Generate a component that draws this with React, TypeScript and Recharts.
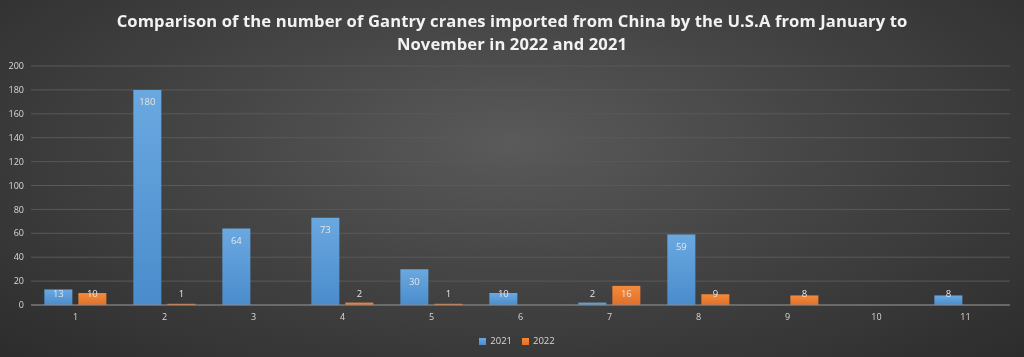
import React from "react";
import { BarChart, Bar, XAxis, YAxis, CartesianGrid, Legend, LabelList } from "recharts";

const months = ["1", "2", "3", "4", "5", "6", "7", "8", "9", "10", "11"];
const values2021: (number | null)[] = [13, 180, 64, 73, 30, 10, 2, 59, null, null, 8];
const values2022: (number | null)[] = [10, 1, null, 2, 1, null, 16, 9, 8, null, null];
const yTicks = [0, 20, 40, 60, 80, 100, 120, 140, 160, 180, 200];

const data = months.map((m, i) => ({ month: m, y2021: values2021[i], y2022: values2022[i] }));

const W = 1024;
const H = 357;

const renderLabel = (props: any) => {
  const { x, y, width, height, value } = props;
  if (value === null || value === undefined) return null;
  const cy = Math.min(y + 12, y + height - 12);
  return (
    <text
      x={x + width / 2}
      y={cy}
      textAnchor="middle"
      dominantBaseline="central"
      fill="#e6e6e6"
      fontSize={9.5}
      fontFamily="'Open Sans', 'DejaVu Sans', sans-serif"
    >
      {value}
    </text>
  );
};

export default function App() {
  return (
    <div
      style={{
        position: "fixed",
        top: 0,
        left: 0,
        width: W,
        height: H,
        background: "radial-gradient(ellipse at 50% 40%, #5a5a5a 0%, #444444 45%, #2c2c2c 100%)",
        fontFamily: "'Open Sans', sans-serif",
      }}
    >
      <div
        style={{
          position: "absolute",
          top: 9,
          left: 0,
          width: W,
          textAlign: "center",
          color: "#f2f2f2",
          fontWeight: 700,
          fontSize: 16.6,
          lineHeight: "23px",
          fontFamily: "'Open Sans', sans-serif",
          letterSpacing: 0.1,
        }}
      >
        Comparison of the number of Gantry cranes imported from China by the U.S.A from January to
        <br />
        November in 2022 and 2021
      </div>
      <BarChart
        width={W}
        height={H}
        data={data}
        margin={{ top: 66, right: 14, bottom: 30, left: 0 }}
        barCategoryGap="15%"
        barGap={6}
        style={{ position: "absolute", top: 0, left: 0 }}
      >
        <defs>
          <linearGradient id="gBlue" x1="0" y1="0" x2="0" y2="1">
            <stop offset="0%" stopColor="#6aa8e0" />
            <stop offset="100%" stopColor="#4a8ccc" />
          </linearGradient>
          <linearGradient id="gOrange" x1="0" y1="0" x2="0" y2="1">
            <stop offset="0%" stopColor="#f58a3a" />
            <stop offset="100%" stopColor="#e0702a" />
          </linearGradient>
        </defs>
        <CartesianGrid vertical={false} stroke="#595959" strokeWidth={1} />
        <XAxis
          dataKey="month"
          height={22}
          axisLine={{ stroke: "#8c8c8c" }}
          tickLine={false}
          tickSize={0}
          tickMargin={9}
          tick={{ fill: "#d9d9d9", fontSize: 9, fontFamily: "'Open Sans', sans-serif" }}
        />
        <YAxis
          width={31}
          domain={[0, 200]}
          ticks={yTicks}
          interval={0}
          axisLine={false}
          tickLine={false}
          tickSize={0}
          tickMargin={7}
          tick={{ fill: "#d9d9d9", fontSize: 9, fontFamily: "'Open Sans', sans-serif" }}
        />
        <Legend
          verticalAlign="middle"
          align="center"
          layout="horizontal"
          iconType="square"
          iconSize={7}
          wrapperStyle={{ top: 334, left: 10, width: W, fontSize: 9.5, color: "#d9d9d9" }}
          formatter={(v: string) => <span style={{ color: "#d9d9d9" }}>{v}</span>}
        />
        <Bar dataKey="y2021" name="2021" fill="url(#gBlue)" legendType="square" isAnimationActive={false}>
          <LabelList dataKey="y2021" content={renderLabel} />
        </Bar>
        <Bar dataKey="y2022" name="2022" fill="url(#gOrange)" legendType="square" isAnimationActive={false}>
          <LabelList dataKey="y2022" content={renderLabel} />
        </Bar>
      </BarChart>
    </div>
  );
}
